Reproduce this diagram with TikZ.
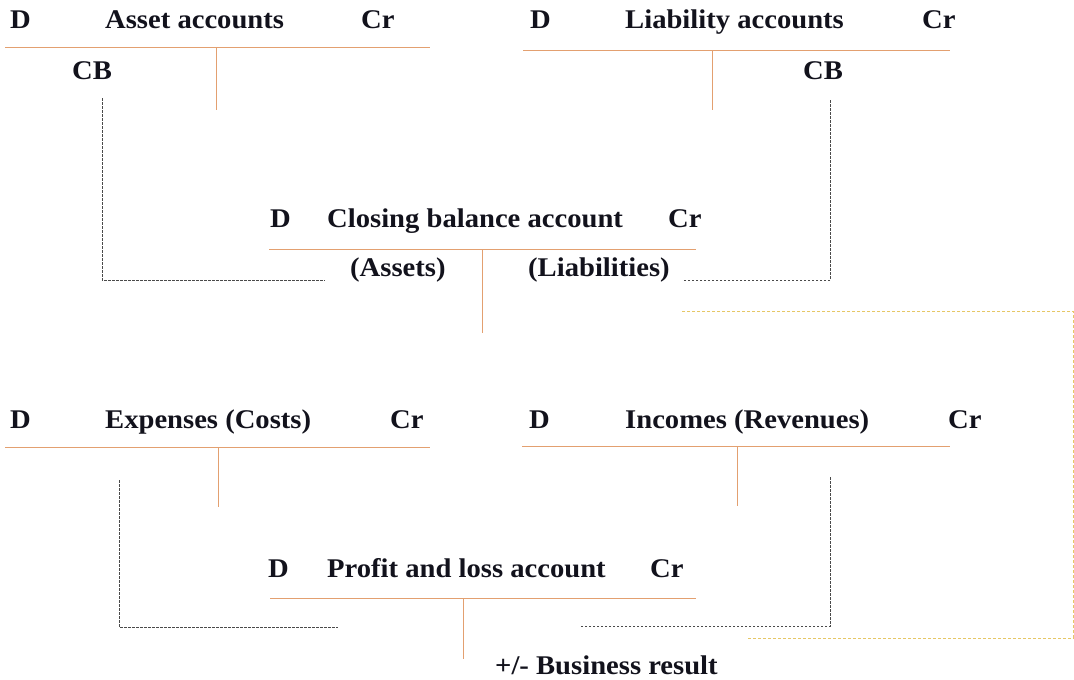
\documentclass[tikz,border=0pt]{standalone}
\usepackage{fontspec}
\setmainfont{Liberation Serif}[FakeStretch=1.06]
\usepackage{xcolor}
\definecolor{tanline}{HTML}{E3A070}
\definecolor{dashgray}{HTML}{4A4A4A}
\definecolor{dotyellow}{HTML}{E6C766}
\definecolor{inkdark}{HTML}{12121C}
\usetikzlibrary{positioning}
\tikzset{
  acclabel/.style={
    anchor=base west, inner sep=0pt, text=inkdark,
    font=\bfseries\fontsize{27}{32}\selectfont
  },
  tline/.style={draw=tanline, line width=1pt},
  closeline/.style={draw=dashgray, dash pattern=on 2.5pt off 1.5pt, line width=0.8pt},
  resultline/.style={draw=dotyellow, dash pattern=on 3pt off 2pt, line width=0.9pt}
}

\begin{document}
\begin{tikzpicture}[x=1pt,y=-1pt]

  \useasboundingbox (0,0) rectangle (1074,680);

  % Asset accounts
  \node[acclabel] (assetD) at (10,28) {D};
  \node[acclabel] (assettitle) at (105,28) {Asset accounts};
  \node[acclabel] (assetCr) at (361,28) {Cr};
  \node[acclabel] (assetCB) at (72,79) {CB};
  \coordinate (assetL) at (5,47);
  \coordinate (assetR) at (430,47);
  \coordinate (assetM) at (216,47);
  \coordinate (assetB) at (216,110);

  % Liability accounts
  \node[acclabel] (liabD) at (530,28) {D};
  \node[acclabel] (liabtitle) at (625,28) {Liability accounts};
  \node[acclabel] (liabCr) at (922,28) {Cr};
  \node[acclabel] (liabCB) at (803,79) {CB};
  \coordinate (liabL) at (523,50);
  \coordinate (liabR) at (950,50);
  \coordinate (liabM) at (712,50);
  \coordinate (liabB) at (712,110);

  % Closing balance account
  \node[acclabel] (closeD) at (270,227) {D};
  \node[acclabel] (closetitle) at (327,227) {Closing balance account};
  \node[acclabel] (closeCr) at (668,227) {Cr};
  \node[acclabel] (closeassets) at (350,276) {(Assets)};
  \node[acclabel] (closeliab) at (528,276) {(Liabilities)};
  \coordinate (closeL) at (269,249);
  \coordinate (closeR) at (696,249);
  \coordinate (closeM) at (482,249);
  \coordinate (closeB) at (482,333);

  % Expenses (Costs)
  \node[acclabel] (expD) at (10,428) {D};
  \node[acclabel] (exptitle) at (105,428) {Expenses (Costs)};
  \node[acclabel] (expCr) at (390,428) {Cr};
  \coordinate (expL) at (5,447);
  \coordinate (expR) at (430,447);
  \coordinate (expM) at (218,447);
  \coordinate (expB) at (218,507);

  % Incomes (Revenues)
  \node[acclabel] (incD) at (529,428) {D};
  \node[acclabel] (inctitle) at (625,428) {Incomes (Revenues)};
  \node[acclabel] (incCr) at (948,428) {Cr};
  \coordinate (incL) at (522,446);
  \coordinate (incR) at (950,446);
  \coordinate (incM) at (737,446);
  \coordinate (incB) at (737,506);

  % Profit and loss account
  \node[acclabel] (plD) at (268,577) {D};
  \node[acclabel] (pltitle) at (327,577) {Profit and loss account};
  \node[acclabel] (plCr) at (650,577) {Cr};
  \node[acclabel] (result) at (495,674) {+/- Business result};
  \coordinate (plL) at (270,598);
  \coordinate (plR) at (696,598);
  \coordinate (plM) at (463,598);
  \coordinate (plB) at (463,659);

  % T-account lines
  \foreach \acc in {asset,liab,close,exp,inc,pl} {
    \draw[tline] (\acc L) -- (\acc R);
    \draw[tline] (\acc M) -- (\acc B);
  }

  % Closing transfers
  \coordinate (cbleft) at (102,98);
  \coordinate (cbright) at (830,100);
  \coordinate (toassets) at (325,280);
  \coordinate (toliab) at (683,280);
  \draw[closeline] (cbleft) |- (toassets);
  \draw[closeline] (cbright) |- (toliab);

  \coordinate (expout) at (119,480);
  \coordinate (incout) at (830,477);
  \coordinate (toexp) at (338,627);
  \coordinate (toinc) at (580,626);
  \draw[closeline] (expout) |- (toexp);
  \draw[closeline] (incout) |- (toinc);

  % Result carried to the balance
  \coordinate (resfrom) at (748,638);
  \coordinate (resto) at (682,311);
  \draw[resultline] (resfrom) -| (1073,311) -- (resto);

\end{tikzpicture}
\end{document}
